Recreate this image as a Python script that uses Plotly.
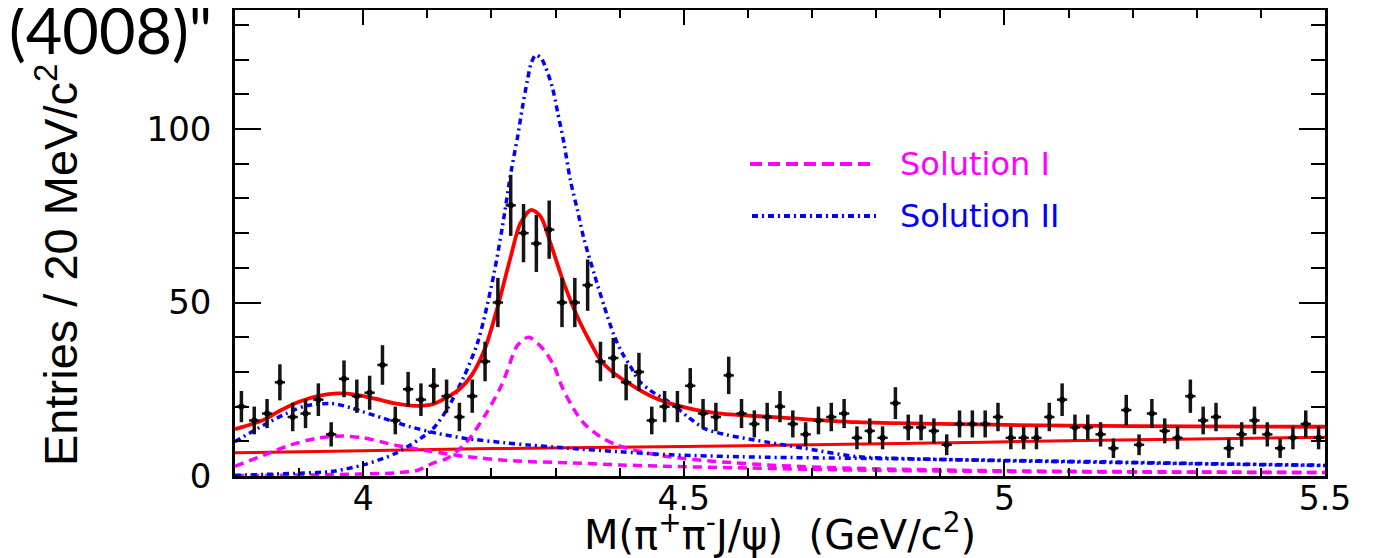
import plotly.graph_objects as go

# ---------------- data ----------------
bin_centers = [3.81, 3.83, 3.85, 3.87, 3.89, 3.91, 3.93, 3.95, 3.97, 3.99,
               4.01, 4.03, 4.05, 4.07, 4.09, 4.11, 4.13, 4.15, 4.17, 4.19,
               4.21, 4.23, 4.25, 4.27, 4.29, 4.31, 4.33, 4.35, 4.37, 4.39,
               4.41, 4.43, 4.45, 4.47, 4.49, 4.51, 4.53, 4.55, 4.57, 4.59,
               4.61, 4.63, 4.65, 4.67, 4.69, 4.71, 4.73, 4.75, 4.77, 4.79,
               4.81, 4.83, 4.85, 4.87, 4.89, 4.91, 4.93, 4.95, 4.97, 4.99,
               5.01, 5.03, 5.05, 5.07, 5.09, 5.11, 5.13, 5.15, 5.17, 5.19,
               5.21, 5.23, 5.25, 5.27, 5.29, 5.31, 5.33, 5.35, 5.37, 5.39,
               5.41, 5.43, 5.45, 5.47, 5.49]
entries = [20, 16, 18, 27, 17, 18, 22, 12, 28, 23,
           24, 32, 16, 25, 22, 26, 23, 17, 23, 33,
           50, 78, 70, 67, 71, 50, 50, 55, 33, 34,
           27, 30, 16, 20, 20, 26, 18, 17, 29, 18,
           15, 17, 20, 15, 12, 16, 17, 18, 11, 13,
           11, 21, 14, 14, 13, 9, 15, 15, 15, 17,
           11, 11, 11, 17, 22, 14, 14, 12, 8, 19,
           9, 18, 13, 11, 23, 16, 17, 8, 12, 16,
           12, 8, 11, 15, 11]
entry_errors = [4.5, 4.0, 4.2, 5.2, 4.1, 4.2, 4.7, 3.5, 5.3, 4.8,
                4.9, 5.7, 4.0, 5.0, 4.7, 5.1, 4.8, 4.1, 4.8, 5.7,
                7.1, 8.8, 8.4, 8.2, 8.4, 7.1, 7.1, 7.4, 5.7, 5.8,
                5.2, 5.5, 4.0, 4.5, 4.5, 5.1, 4.2, 4.1, 5.4, 4.2,
                3.9, 4.1, 4.5, 3.9, 3.5, 4.0, 4.1, 4.2, 3.3, 3.6,
                3.3, 4.6, 3.7, 3.7, 3.6, 3.0, 3.9, 3.9, 3.9, 4.1,
                3.3, 3.3, 3.3, 4.1, 4.7, 3.7, 3.7, 3.5, 2.8, 4.4,
                3.0, 4.2, 3.6, 3.3, 4.8, 4.0, 4.1, 2.8, 3.5, 4.0,
                3.5, 2.8, 3.3, 3.9, 3.3]

# total fit (red, solid)
total_x = [3.80, 3.845, 3.87, 3.90, 3.93, 3.96, 3.99, 4.02, 4.05, 4.08,
           4.11, 4.13, 4.15, 4.17, 4.19, 4.21, 4.23, 4.245, 4.262, 4.277,
           4.292, 4.313, 4.334, 4.355, 4.37, 4.39, 4.41, 4.45, 4.49, 4.55,
           4.63, 4.77, 4.90, 5.10, 5.30, 5.50]
total_y = [13.5, 16.2, 18.8, 21.4, 23.1, 23.8, 23.4, 22.2, 20.9, 20.2,
           20.8, 22.6, 25.0, 29.3, 36.8, 49.0, 63.2, 72.8, 76.7, 74.7,
           67.1, 55.5, 45.9, 38.2, 33.4, 29.8, 27.2, 22.9, 20.3, 18.1,
           17.1, 15.5, 15.0, 14.5, 14.3, 14.2]

# background (red, solid)
bkg_x = [3.80, 4.00, 4.20, 4.50, 4.78, 5.15, 5.50]
bkg_y = [6.7, 7.3, 7.9, 8.5, 9.2, 10.3, 11.2]

# Solution I components (magenta, dashed)
sol1_y4008_x = [3.80, 3.845, 3.886, 3.928, 3.968, 4.00, 4.05, 4.10, 4.16, 4.24,
                4.32, 4.40, 4.47, 4.60, 4.77, 5.00, 5.25, 5.50]
sol1_y4008_y = [2.8, 6.0, 8.9, 10.9, 11.5, 11.0, 8.9, 7.3, 5.6, 4.3,
                3.8, 3.2, 2.8, 2.3, 1.7, 1.3, 1.1, 1.0]
sol1_y4260_x = [3.80, 3.95, 4.05, 4.084, 4.11, 4.13, 4.16, 4.19, 4.214, 4.225,
                4.24, 4.258, 4.282, 4.298, 4.31, 4.326, 4.344, 4.37, 4.396, 4.433,
                4.474, 4.55, 4.65, 4.77, 5.00, 5.25, 5.50]
sol1_y4260_y = [0.1, 0.4, 0.9, 1.6, 3.8, 5.0, 9.5, 17.5, 25.5, 30.5,
                37.5, 40.0, 36.3, 31.5, 25.7, 20.0, 15.2, 11.3, 8.9, 7.0,
                5.6, 4.2, 3.0, 2.2, 1.5, 1.2, 1.0]

# Solution II components (blue, dash-dot)
sol2_y4008_x = [3.80, 3.845, 3.88, 3.91, 3.95, 3.98, 4.00, 4.032, 4.073, 4.115,
                4.157, 4.22, 4.26, 4.32, 4.40, 4.48, 4.63, 4.77, 5.00, 5.15,
                5.30, 5.50]
sol2_y4008_y = [9.9, 14.7, 18.0, 20.2, 20.9, 19.7, 18.5, 16.6, 14.2, 12.3,
                10.9, 9.6, 8.9, 8.0, 7.0, 6.1, 5.4, 5.1, 4.5, 4.1,
                3.6, 3.1]
sol2_y4260_x = [3.80, 3.90, 3.95, 4.00, 4.05, 4.107, 4.13, 4.157, 4.178, 4.188,
                4.204, 4.217, 4.231, 4.241, 4.248, 4.256, 4.262, 4.269, 4.277, 4.284,
                4.295, 4.303, 4.313, 4.323, 4.334, 4.344, 4.36, 4.376, 4.391, 4.404,
                4.417, 4.43, 4.448, 4.48, 4.506, 4.532, 4.568, 4.61, 4.687, 4.77,
                4.85, 5.00, 5.20, 5.50]
sol2_y4260_y = [0.2, 0.8, 1.3, 3.2, 6.5, 13.3, 19.0, 28.6, 38.2, 45.0,
                58.4, 71.8, 88.2, 98.0, 106.0, 114.0, 119.0, 121.3, 120.5, 118.0,
                112.0, 105.0, 96.0, 85.3, 76.7, 68.5, 58.4, 48.8, 40.6, 35.4,
                31.5, 27.5, 24.6, 21.0, 17.1, 13.7, 11.8, 10.4, 8.0, 5.6,
                5.0, 4.4, 3.8, 3.0]

x_tick_vals = [4, 4.5, 5, 5.5]
x_tick_text = ["4", "4.5", "5", "5.5"]
y_tick_vals = [0, 50, 100]
y_tick_text = ["0", "50", "100"]

legend_labels = ["Solution I", "Solution II"]

# ---------------- styles ----------------
RED = "#ff0000"
MAG = "#ff00ff"
BLUE = "#0000ff"
FONT = "DejaVu Sans, Liberation Sans, Arial, sans-serif"
MAG_DASH = "9px,6px"
BLUE_DASH = "6px,4px,2px,4px"

fig = go.Figure()

def curve(x, y, color, width, dash="solid"):
    fig.add_trace(go.Scatter(x=x, y=y, mode="lines",
                             line=dict(color=color, width=width, dash=dash,
                                       shape="spline", smoothing=0.8),
                             showlegend=False, hoverinfo="skip"))

curve(bkg_x, bkg_y, RED, 3)
curve(sol1_y4008_x, sol1_y4008_y, MAG, 3.5, MAG_DASH)
curve(sol1_y4260_x, sol1_y4260_y, MAG, 3.5, MAG_DASH)
curve(sol2_y4008_x, sol2_y4008_y, BLUE, 3.5, BLUE_DASH)
curve(sol2_y4260_x, sol2_y4260_y, BLUE, 3.5, BLUE_DASH)
curve(total_x, total_y, RED, 3.8)

fig.add_trace(go.Scatter(
    x=bin_centers, y=entries, mode="markers",
    marker=dict(color="black", size=6, symbol="circle"),
    error_y=dict(type="data", array=entry_errors, visible=True,
                 color="#151515", thickness=3.5, width=0),
    error_x=dict(type="constant", value=0.008, visible=True,
                 color="#151515", thickness=2.5, width=0),
    showlegend=False, hoverinfo="skip"))

axis_common = dict(showline=True, linecolor="black", linewidth=2.5,
                   mirror="allticks", ticks="inside", tickcolor="black",
                   tickwidth=2.2, showgrid=False, zeroline=False,
                   automargin=False)

fig.update_xaxes(range=[3.8, 5.5], tickvals=x_tick_vals, ticktext=x_tick_text,
                 ticklen=15, ticklabelstandoff=-8,
                 tickfont=dict(family=FONT, size=33, color="black"),
                 minor=dict(ticks="inside", ticklen=8, dtick=0.1, tick0=3.8,
                            tickcolor="black", tickwidth=2, showgrid=False),
                 **axis_common)
fig.update_yaxes(range=[0, 134.3], tickvals=y_tick_vals, ticktext=y_tick_text,
                 ticklen=26, ticklabelstandoff=14,
                 tickfont=dict(family=FONT, size=34, color="black"),
                 minor=dict(ticks="inside", ticklen=14, dtick=10, tick0=0,
                            tickcolor="black", tickwidth=2, showgrid=False),
                 **axis_common)

# The page body adds an 8 px offset; the figure is laid out so that the
# plot frame lands where the reference has it.
OFF = 8
W, H = 1375 - OFF, 558 - OFF
L, R, T, B = 235 - OFF, 50, 2, 82
pw, ph = W - L - R, H - T - B

def px_to_paper_x(page_px):
    return (page_px - OFF - L) / pw

def py_to_paper_y(page_py):
    return (H - B - (page_py - OFF)) / ph

annotations = [
    dict(text="M(\u03c0<sup>+</sup>\u03c0<sup>-</sup>J/\u03c8)  (GeV/c<sup>2</sup>)",
         x=px_to_paper_x(780), y=py_to_paper_y(532), xref="paper", yref="paper",
         xanchor="center", yanchor="middle", showarrow=False,
         font=dict(family=FONT, size=40, color="black")),
    dict(text="Entries / 20 MeV/c<sup>2</sup>", textangle=-90,
         x=px_to_paper_x(57), y=py_to_paper_y(265), xref="paper", yref="paper",
         xanchor="center", yanchor="middle", showarrow=False,
         font=dict(family="Liberation Sans, Arial, sans-serif", size=47, color="black")),
    dict(text="(4008)\"", x=px_to_paper_x(214), y=py_to_paper_y(30),
         xref="paper", yref="paper", xanchor="right", yanchor="middle",
         showarrow=False, font=dict(family="Lato, Open Sans, sans-serif", size=63, color="black")),
    dict(text=legend_labels[0], x=px_to_paper_x(898), y=py_to_paper_y(164),
         xref="paper", yref="paper", xanchor="left", yanchor="middle",
         showarrow=False, font=dict(family=FONT, size=32, color=MAG)),
    dict(text=legend_labels[1], x=px_to_paper_x(898), y=py_to_paper_y(216),
         xref="paper", yref="paper", xanchor="left", yanchor="middle",
         showarrow=False, font=dict(family=FONT, size=32, color=BLUE)),
]

shapes = [
    dict(type="line", xref="paper", yref="paper",
         x0=px_to_paper_x(750), x1=px_to_paper_x(876),
         y0=py_to_paper_y(164), y1=py_to_paper_y(164),
         line=dict(color=MAG, width=4, dash="12px,6px")),
    dict(type="line", xref="paper", yref="paper",
         x0=px_to_paper_x(752), x1=px_to_paper_x(876),
         y0=py_to_paper_y(216), y1=py_to_paper_y(216),
         line=dict(color=BLUE, width=4, dash=BLUE_DASH)),
]

fig.update_layout(width=W, height=H,
                  margin=dict(l=L, r=R, t=T, b=B, pad=0),
                  paper_bgcolor="white", plot_bgcolor="white",
                  annotations=annotations, shapes=shapes,
                  showlegend=False)

fig.write_html("out.html")
